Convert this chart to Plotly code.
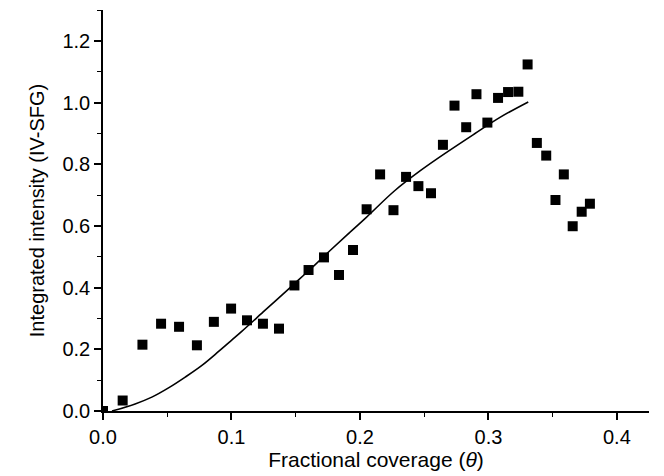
import plotly.graph_objects as go

# measured points (square markers)
coverage = [0.0, 0.0153, 0.0307, 0.0452, 0.0592, 0.0731, 0.0863, 0.0997, 0.1121,
            0.1245, 0.137, 0.149, 0.160, 0.172, 0.1837, 0.1946, 0.2052, 0.2157,
            0.2261, 0.2359, 0.2455, 0.2553, 0.2646, 0.2736, 0.2827, 0.2907,
            0.2992, 0.3075, 0.3153, 0.3233, 0.3305, 0.3377, 0.345, 0.3522,
            0.3587, 0.3656, 0.3726, 0.379]
intensity = [0.0, 0.034, 0.215, 0.283, 0.273, 0.213, 0.289, 0.332, 0.294,
             0.283, 0.267, 0.407, 0.457, 0.498, 0.441, 0.522, 0.654, 0.767,
             0.651, 0.759, 0.729, 0.706, 0.863, 0.990, 0.920, 1.027,
             0.935, 1.015, 1.034, 1.035, 1.1235, 0.869, 0.828, 0.684,
             0.767, 0.599, 0.646, 0.672]

# model curve (solid line)
fit_x = [0.007, 0.025, 0.038, 0.051, 0.064, 0.077, 0.090, 0.100, 0.108, 0.126,
         0.139, 0.152, 0.165, 0.177, 0.190, 0.205, 0.227, 0.247, 0.268, 0.289,
         0.309, 0.331]
fit_y = [0.0, 0.023, 0.045, 0.075, 0.11, 0.148, 0.193, 0.229, 0.258, 0.326,
         0.375, 0.424, 0.474, 0.521, 0.571, 0.628, 0.714, 0.779, 0.840, 0.898,
         0.952, 1.002]

font_family = "Liberation Sans, Arial, sans-serif"

fig = go.Figure()
fig.add_trace(go.Scatter(
    x=fit_x, y=fit_y, mode='lines', line=dict(color='black', width=1.6, shape='spline'),
    showlegend=False,
))
fig.add_trace(go.Scatter(
    x=coverage, y=intensity, mode='markers',
    marker=dict(symbol='square', size=10, color='black'),
    showlegend=False,
))

axis_common = dict(
    showline=True, linecolor='black', linewidth=1.5, mirror=False,
    showgrid=False, zeroline=False, ticks='outside', ticklen=7, tickwidth=1.5,
    tickcolor='black', tickfont=dict(size=20, color='black', family=font_family),
)

fig.update_xaxes(
    range=[0, 0.425], tickvals=[0.0, 0.1, 0.2, 0.3, 0.4], tickformat='.1f',
    minor=dict(ticks='outside', ticklen=4, tickwidth=1.2, tickcolor='black', dtick=0.05, tick0=0),
    title=dict(text='Fractional coverage (<i>θ</i>)', font=dict(size=21, color='black', family=font_family),
               standoff=6),
    **axis_common,
)
fig.update_yaxes(
    range=[0, 1.3], tickvals=[0.0, 0.2, 0.4, 0.6, 0.8, 1.0, 1.2], tickformat='.1f',
    minor=dict(ticks='outside', ticklen=4, tickwidth=1.2, tickcolor='black', dtick=0.1, tick0=0),
    title=dict(text='Integrated intensity (IV-SFG)', font=dict(size=20, color='black', family=font_family),
               standoff=12),
    **axis_common,
)

# the page body adds an 8px margin, so the figure is sized to fit the window
fig.update_layout(
    width=656, height=468,
    margin=dict(l=95, r=15, t=2, b=65),
    plot_bgcolor='white', paper_bgcolor='white',
    font=dict(family=font_family, color='black'),
)

fig.write_html("out.html")
